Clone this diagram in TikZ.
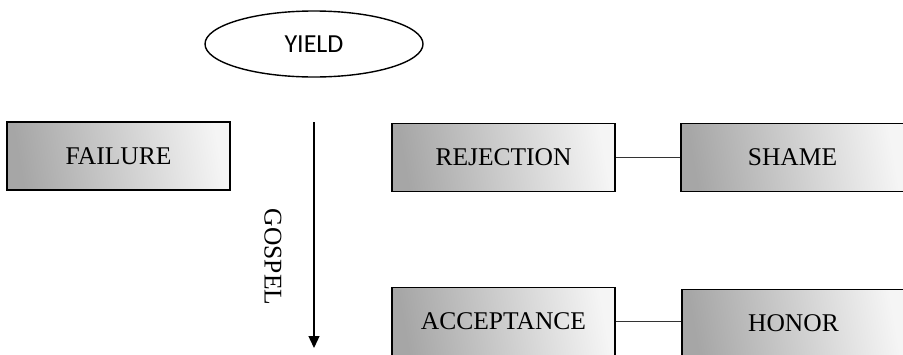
\documentclass[tikz,border=0pt]{standalone}
\usepackage{fontspec}
\setmainfont{Liberation Serif}
\newfontfamily\yieldfont{Carlito}
\usetikzlibrary{arrows.meta,shapes.geometric}
\tikzset{
  box/.style={draw=black, line width=1.4pt, rectangle, minimum width=223pt, minimum height=68pt,
    left color=gray!70, right color=gray!8, shading angle=100, inner sep=0pt, font=\fontsize{25.5}{30}\selectfont},
  oval/.style={draw=black, line width=1.4pt, ellipse, minimum width=218pt, minimum height=66pt,
    inner sep=0pt, font=\yieldfont\fontsize{26}{30}\selectfont},
  link/.style={draw=black!80, line width=0.9pt},
  flow/.style={draw=black, line width=1.3pt, -{Triangle[width=11pt,length=12pt]}}
}
\begin{document}
\begin{tikzpicture}[x=1pt,y=-1pt]
\path[use as bounding box, clip] (0,0) rectangle (903,354);
\fill[white] (0,0) rectangle (903,354);
\node[oval] (yield) at (314,44) {YIELD};
\node[box] (failure) at (118.5,156) {FAILURE};
\node[box] (rejection) at (503.5,157.5) {REJECTION};
\node[box] (shame) at (792.5,157.5) {SHAME};
\node[box] (acceptance) at (503.5,321.5) {ACCEPTANCE};
\node[box] (honor) at (793.5,323.5) {HONOR};
\coordinate (gtop) at (314,122);
\coordinate (gbot) at (314,348);
\draw[flow] (gtop) -- (gbot);
\node[rotate=-90, font=\fontsize{25.5}{30}\selectfont] (gospel) at (273,257) {GOSPEL};
\draw[link] (rejection.east) -- (rejection.east -| shame.west);
\draw[link] (acceptance.east) -- (acceptance.east -| honor.west);
\end{tikzpicture}
\end{document}
